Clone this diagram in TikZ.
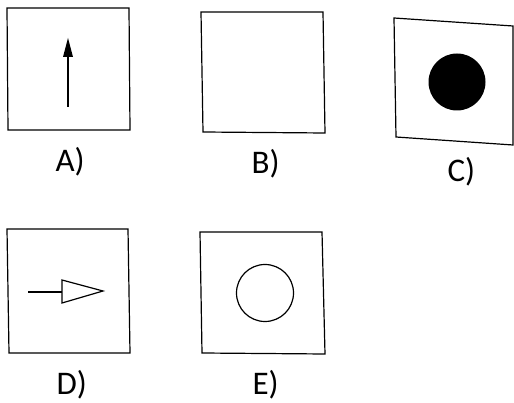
\documentclass[tikz,border=0pt]{standalone}
\usepackage{fontspec}
\setmainfont{Carlito}
\begin{document}
\begin{tikzpicture}[x=1pt,y=-1pt,line width=1.2pt,
  lbl/.style={anchor=base west,inner sep=0pt,font=\fontsize{33}{33}\selectfont}]
\useasboundingbox (0,0) rectangle (514,403);
% A
\draw (7,8) -- (129,8) -- (130,130) -- (8,130) -- cycle;
\draw (68,107) -- (68,56);
\fill (63,57) -- (68,38) -- (73,57) -- cycle;
\node[lbl] (la) at (55,172) {A)};
% B
\draw (201,12) -- (323,12) -- (325,133) -- (203,132) -- cycle;
\node[lbl] (lb) at (251,174) {B)};
% C
\draw (394,18) -- (513,26) -- (513,145) -- (396,137) -- cycle;
\fill (457,82) circle (28.5);
\node[lbl] (lc) at (447,182) {C)};
% D
\draw (7,229) -- (128,229) -- (130,353) -- (9,353) -- cycle;
\draw (28,292) -- (62,292);
\draw (62,280) -- (103,291) -- (62,303) -- cycle;
\node[lbl] (ld) at (56,394) {D)};
% E
\draw (200,232) -- (322,232) -- (325,354) -- (202,353) -- cycle;
\draw (265,293) circle (28.5);
\node[lbl] (le) at (252,394) {E)};
\end{tikzpicture}
\end{document}
